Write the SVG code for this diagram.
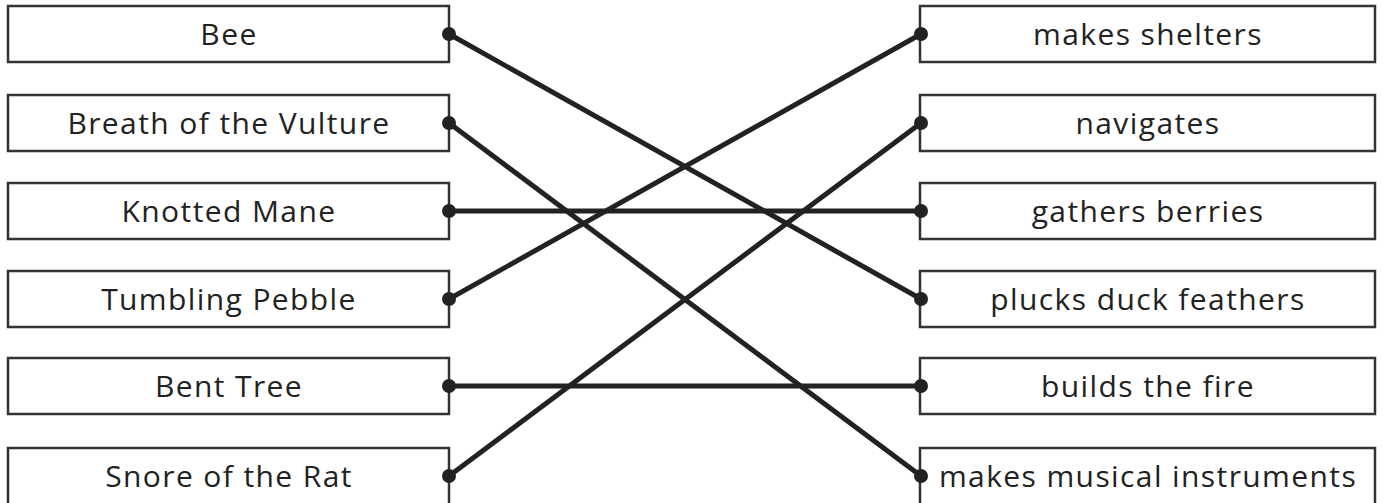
<svg xmlns="http://www.w3.org/2000/svg" width="1383" height="503" viewBox="0 0 1383 503">
<style>
.box{fill:#fff;stroke:#333;stroke-width:2.5}
.t{font-family:"Open Sans",sans-serif;font-size:30px;letter-spacing:1.4px;fill:#222;text-anchor:middle}
.c{stroke:#222;stroke-width:5;fill:none}
.d{fill:#222}
</style>
<rect width="1383" height="503" fill="#fff"/>
<g id="l1"><rect class="box" x="8" y="6" width="441" height="56"/><text class="t" x="229" y="45">Bee</text></g>
<g id="l2"><rect class="box" x="8" y="95" width="441" height="56"/><text class="t" x="229" y="134">Breath of the Vulture</text></g>
<g id="l3"><rect class="box" x="8" y="183" width="441" height="56"/><text class="t" x="229" y="222">Knotted Mane</text></g>
<g id="l4"><rect class="box" x="8" y="271" width="441" height="56"/><text class="t" x="229" y="310">Tumbling Pebble</text></g>
<g id="l5"><rect class="box" x="8" y="358" width="441" height="56"/><text class="t" x="229" y="397">Bent Tree</text></g>
<g id="l6"><rect class="box" x="8" y="448" width="441" height="60"/><text class="t" x="229" y="487">Snore of the Rat</text></g>
<g id="r1"><rect class="box" x="920" y="6" width="455" height="56"/><text class="t" x="1148" y="45">makes shelters</text></g>
<g id="r2"><rect class="box" x="920" y="95" width="455" height="56"/><text class="t" x="1148" y="134">navigates</text></g>
<g id="r3"><rect class="box" x="920" y="183" width="455" height="56"/><text class="t" x="1148" y="222">gathers berries</text></g>
<g id="r4"><rect class="box" x="920" y="271" width="455" height="56"/><text class="t" x="1148" y="310">plucks duck feathers</text></g>
<g id="r5"><rect class="box" x="920" y="358" width="455" height="56"/><text class="t" x="1148" y="397">builds the fire</text></g>
<g id="r6"><rect class="box" x="920" y="448" width="455" height="60"/><text class="t" x="1148" y="487">makes musical instruments</text></g>
<g id="connectors">
<line class="c" x1="449" y1="34" x2="921" y2="299"/>
<line class="c" x1="449" y1="123" x2="921" y2="476"/>
<line class="c" x1="449" y1="211" x2="921" y2="211"/>
<line class="c" x1="449" y1="299" x2="921" y2="34"/>
<line class="c" x1="449" y1="386" x2="921" y2="386"/>
<line class="c" x1="449" y1="476" x2="921" y2="123"/>
<circle class="d" cx="449" cy="34" r="7"/><circle class="d" cx="449" cy="123" r="7"/><circle class="d" cx="449" cy="211" r="7"/><circle class="d" cx="449" cy="299" r="7"/><circle class="d" cx="449" cy="386" r="7"/><circle class="d" cx="449" cy="476" r="7"/>
<circle class="d" cx="921" cy="34" r="7"/><circle class="d" cx="921" cy="123" r="7"/><circle class="d" cx="921" cy="211" r="7"/><circle class="d" cx="921" cy="299" r="7"/><circle class="d" cx="921" cy="386" r="7"/><circle class="d" cx="921" cy="476" r="7"/>
</g>
</svg>
